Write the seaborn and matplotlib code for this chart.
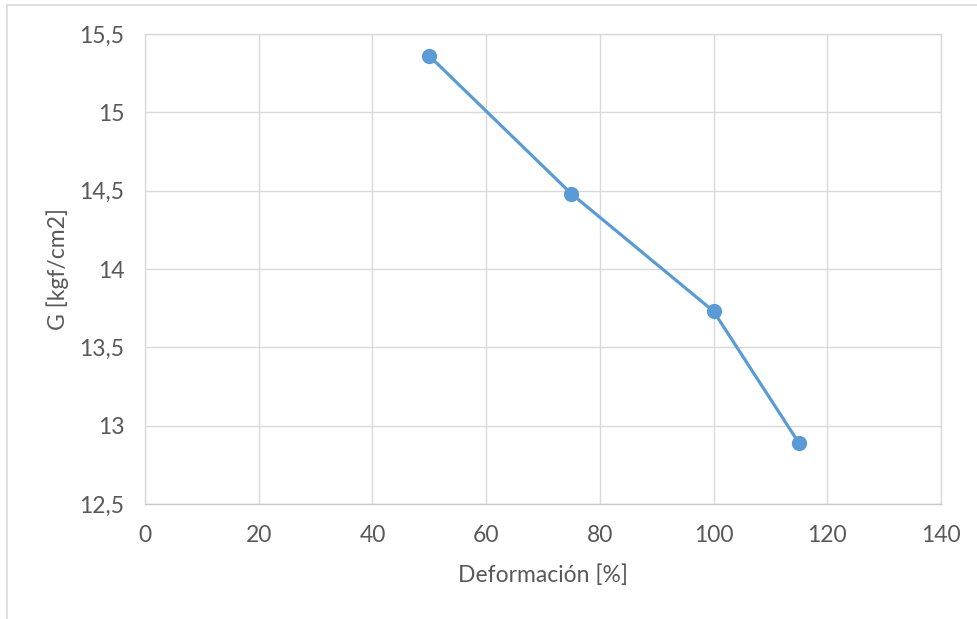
import matplotlib
matplotlib.use("Agg")
import matplotlib.pyplot as plt
import seaborn as sns
import pandas as pd
from matplotlib.lines import Line2D

# Shear modulus against deformation
deformacion = [50, 75, 100, 115]
modulo_g = [15.36, 14.48, 13.73, 12.89]

x_ticks = [0, 20, 40, 60, 80, 100, 120, 140]
y_ticks = [12.5, 13.0, 13.5, 14.0, 14.5, 15.0, 15.5]
y_tick_labels = ["12,5", "13", "13,5", "14", "14,5", "15", "15,5"]

df = pd.DataFrame({"Deformación [%]": deformacion, "G [kgf/cm2]": modulo_g})

sns.set_theme(style="white")
plt.rcParams["font.family"] = ["Lato", "DejaVu Sans"]

text_color = "#595959"
grid_color = "#d9d9d9"
line_color = "#5b9bd5"
font_size = 16.5

W, H = 977, 619
fig = plt.figure(figsize=(W / 100, H / 100), dpi=100)
ax = fig.add_axes([145 / W, (H - 504) / H, (941 - 145) / W, (504 - 34) / H])

sns.lineplot(data=df, x="Deformación [%]", y="G [kgf/cm2]", ax=ax,
             color=line_color, linewidth=2.3, marker="o", markersize=11,
             markeredgewidth=0, zorder=3)

ax.set_xlim(0, 140)
ax.set_ylim(12.5, 15.5)
ax.set_xticks(x_ticks)
ax.set_xticklabels([str(v) for v in x_ticks])
ax.set_yticks(y_ticks)
ax.set_yticklabels(y_tick_labels)

ax.grid(True, color=grid_color, linewidth=1.0)
ax.set_axisbelow(True)
for side, sp in ax.spines.items():
    sp.set_color(grid_color)
    sp.set_linewidth(1.0)
ax.spines["bottom"].set_color("#c8c8c8")

ax.tick_params(axis="both", length=0, labelsize=font_size, colors=text_color)
ax.tick_params(axis="x", pad=15)
ax.tick_params(axis="y", pad=15)

ax.set_xlabel("Deformación [%]", fontsize=font_size, color=text_color)
ax.set_ylabel("G [kgf/cm2]", fontsize=font_size, color=text_color)
ax.xaxis.label.set_va("center")
ax.yaxis.label.set_va("center")
ax.xaxis.set_label_coords(0.5, (504 - 575) / 470)
ax.yaxis.set_label_coords((58 - 145) / 796, 0.5)

# chart area frame along the top and left edges
fig.add_artist(Line2D([6.5 / W, 6.5 / W], [0, 1 - 4.5 / H], transform=fig.transFigure,
                      color=grid_color, linewidth=1.2))
fig.add_artist(Line2D([6.5 / W, 1], [1 - 4.5 / H, 1 - 4.5 / H], transform=fig.transFigure,
                      color=grid_color, linewidth=1.2))

fig.savefig("out.png", dpi=100)
